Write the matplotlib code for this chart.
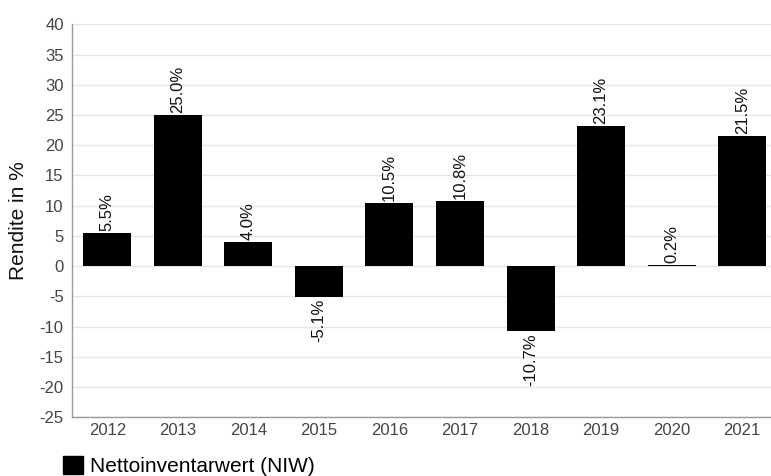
import matplotlib
matplotlib.use("Agg")
import matplotlib.pyplot as plt
from matplotlib.patches import Patch

plt.rcParams['font.family'] = ['Liberation Sans', 'DejaVu Sans']
plt.rcParams['axes.unicode_minus'] = False

years = ["2012", "2013", "2014", "2015", "2016", "2017", "2018", "2019", "2020", "2021"]
values = [5.5, 25.0, 4.0, -5.1, 10.5, 10.8, -10.7, 23.1, 0.2, 21.5]
yticks = [-25, -20, -15, -10, -5, 0, 5, 10, 15, 20, 25, 30, 35, 40]

fig = plt.figure(figsize=(7.71, 4.76), dpi=100)
ax = fig.add_axes([0.0934, 0.1233, 0.915, 0.8257])

x = list(range(len(years)))
ax.bar(x, values, width=0.68, color="black", zorder=3)

for xi, v in zip(x, values):
    label = f"{v:.1f}%"
    if v >= 0:
        ax.annotate(label, (xi, v), xytext=(0, 1.5), textcoords="offset points",
                    rotation=90, ha="center", va="bottom", fontsize=12, color="#111")
    else:
        ax.annotate(label, (xi, v), xytext=(0, -1.5), textcoords="offset points",
                    rotation=90, ha="center", va="top", fontsize=12, color="#111")

ax.set_xlim(-0.5, len(years) - 0.5)
ax.set_ylim(-25, 40)
ax.set_yticks(yticks)
ax.set_xticks(x)
ax.set_xticklabels(years)
ax.tick_params(axis="both", length=0, labelsize=12, labelcolor="#444")
ax.tick_params(axis="x", pad=4)
ax.tick_params(axis="y", pad=6)
ax.grid(axis="y", color="#e6e6e6", linewidth=1, zorder=0)
ax.set_axisbelow(True)
for s in ["top", "right"]:
    ax.spines[s].set_visible(False)
for s in ["left", "bottom"]:
    ax.spines[s].set_color("#999999")
    ax.spines[s].set_linewidth(1)

ax.set_ylabel("Rendite in %", fontsize=15, color="#111")
ax.yaxis.set_label_coords(-0.063, 0.5)

fig.legend(handles=[Patch(facecolor="black", edgecolor="black")],
           labels=["Nettoinventarwert (NIW)"], loc="lower left",
           bbox_to_anchor=(0.0817, 0.0), frameon=False, fontsize=15,
           borderpad=0, borderaxespad=0,
           handlelength=0.95, handleheight=0.95, handletextpad=0.35)

fig.savefig("out.png", dpi=100)
